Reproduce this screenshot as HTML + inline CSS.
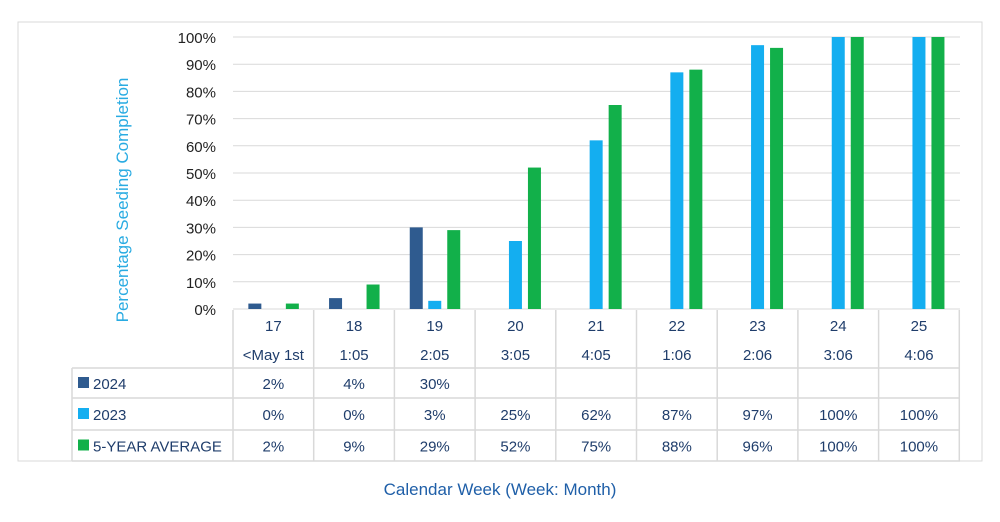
<!DOCTYPE html>
<html><head><meta charset="utf-8"><style>
body{margin:0;background:#fff;width:1000px;height:517px;overflow:hidden;font-family:"Liberation Sans",sans-serif}
</style></head><body>
<svg width="1000" height="517" xmlns="http://www.w3.org/2000/svg">
<rect x="18" y="22" width="964" height="439" fill="#fff" stroke="#d9d9d9"/>
<g id="grid"></g><g id="bars"></g><g id="table"></g>
<text x="128" y="200" transform="rotate(-90 128 200)" text-anchor="middle" font-size="17" fill="#29abe2">Percentage Seeding Completion</text>
<text x="500" y="495" text-anchor="middle" font-size="17" fill="#1f5fa8">Calendar Week (Week: Month)</text>
</svg>
<script>
const weeks=["17","18","19","20","21","22","23","24","25"];
const months=["<May 1st","1:05","2:05","3:05","4:05","1:06","2:06","3:06","4:06"];
const s2024=[2,4,30,null,null,null,null,null,null];
const s2023=[0,0,3,25,62,87,97,100,100];
const s5yr=[2,9,29,52,75,88,96,100,100];
const yTicks=[0,10,20,30,40,50,60,70,80,90,100];
const NS="http://www.w3.org/2000/svg";
const x0=233,cw=80.7,y0=309,yTop=37;
const y=v=>y0-(v/100)*(y0-yTop);
const cx=i=>x0+cw*(i+0.5);
function mk(t,a,p,txt){const e=document.createElementNS(NS,t);for(const k in a)e.setAttribute(k,a[k]);if(txt!=null)e.textContent=txt;p.appendChild(e);return e;}
const g=document.getElementById('grid'),b=document.getElementById('bars'),tb=document.getElementById('table');
yTicks.forEach(v=>{
 const l=mk('line',{x1:x0,x2:960,y1:y(v),y2:y(v),stroke:'#d9d9d9'},g);
 
 
 const t=mk('text',{x:216,y:y(v)+6,'text-anchor':'end','font-size':15,fill:'#222'},g,v+'%');
 
 
});
const series=[[s2024,'#2f5b8f',-25,'2024'],[s2023,'#14aef0',-6.5,'2023'],[s5yr,'#12b04a',12.5,'5yr']];
series.forEach(([arr,col,off,nm])=>{
 arr.forEach((v,i)=>{ if(v==null)return;
  const r=mk('rect',{x:cx(i)+off,y:y(v),width:13,height:y0-y(v),fill:col},b);
  
  
 });
});
// table
const rows=[310,340,368,398,430,461];
const st={stroke:'#d9d9d9','stroke-width':1.5};
for(let i=0;i<=9;i++) mk('line',Object.assign({x1:x0+cw*i,x2:x0+cw*i,y1:310,y2:461},st),tb);
mk('line',Object.assign({x1:72,x2:72,y1:368,y2:461},st),tb);
mk('line',Object.assign({x1:72,x2:960,y1:368,y2:368},st),tb);
mk('line',Object.assign({x1:72,x2:960,y1:398,y2:398},st),tb);
mk('line',Object.assign({x1:72,x2:960,y1:430,y2:430},st),tb);
mk('line',Object.assign({x1:72,x2:960,y1:461,y2:461},st),tb);
weeks.forEach((w,i)=>{
 const t=mk('text',{x:cx(i),y:331,'text-anchor':'middle','font-size':15,fill:'#1f3d6b'},tb,w);
 
 
 const m=mk('text',{x:cx(i),y:360,'text-anchor':'middle','font-size':15,fill:'#1f3d6b'},tb,months[i]);
 
 
});
const names=['2024','2023','5-YEAR AVERAGE'];
series.forEach(([arr,col],r)=>{
 const yy=(rows[r+2]+rows[r+3])/2;
 const k=mk('rect',{x:78,y:yy-6,width:11,height:11,fill:col},tb);
 
 
 const n=mk('text',{x:93,y:yy+6,'font-size':15,fill:'#1f3d6b'},tb,names[r]);
 
 
 arr.forEach((v,i)=>{ if(v==null)return;
  const c=mk('text',{x:cx(i),y:yy+6,'text-anchor':'middle','font-size':15,fill:'#1f3d6b'},tb,v+'%');
  
  
 });
});
</script>
</body></html>
